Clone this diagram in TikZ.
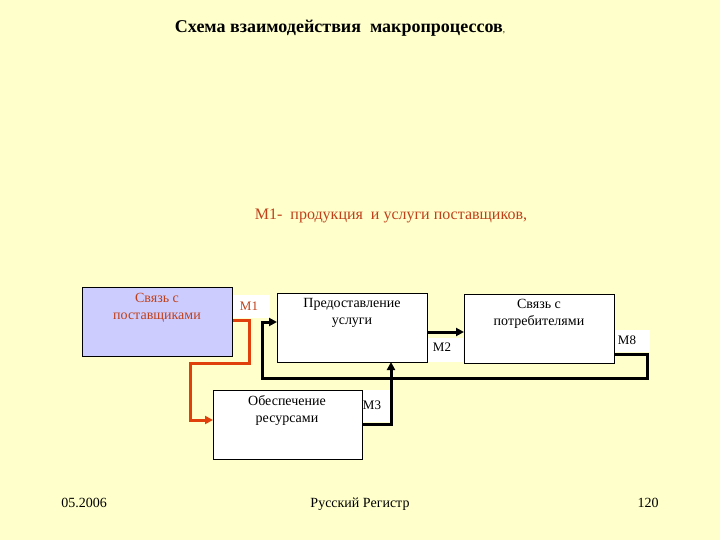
\documentclass[tikz,border=0pt]{standalone}
\usepackage{fontspec}
\setmainfont{Liberation Serif}
\usetikzlibrary{arrows.meta}

\definecolor{slidebg}{HTML}{FFFFCC}
\definecolor{brick}{HTML}{C0401A}
\definecolor{flowred}{HTML}{E0400C}
\definecolor{lavender}{HTML}{CCCCFF}

\begin{document}
\begin{tikzpicture}[x=1pt, y=-1pt,
    box/.style={draw, line width=1.2pt, fill=white, anchor=north west,
        inner sep=0pt, minimum width=150pt, minimum height=69pt},
    boxtext/.style={anchor=north, align=center, inner sep=0pt,
        font=\fontsize{14}{17}\selectfont\rmfamily},
    tag/.style={fill=white, inner sep=0pt, font=\fontsize{13}{15}\selectfont\rmfamily},
    footer/.style={font=\fontsize{14}{16}\selectfont\rmfamily},
    flow/.style={-{Triangle[length=8pt, width=8pt]}, line width=3pt},
    redflow/.style={flow, draw=flowred}
]
    \fill[slidebg] (0,0) rectangle (720,540);
    \useasboundingbox (0,0) rectangle (720,540);

    \node[font=\fontsize{18}{22}\selectfont\rmfamily\bfseries] (title) at (340,28)
        {Схема взаимодействия\ \ макропроцессов{\mdseries\small ,}};
    \node[text=brick, font=\fontsize{16}{19}\selectfont\rmfamily] (legend) at (391,216)
        {М1-\ \ продукция\ \ и услуги поставщиков,};

    % white label patches
    \fill[white] (232,295) rectangle (270,318);
    \fill[white] (427,338) rectangle (463,362);
    \fill[white] (614,330) rectangle (650,352);
    \fill[white] (362,390) rectangle (393,422);

    \node[box, fill=lavender] (suppliers) at (82,287) {};
    \node[boxtext, text=brick] at (157,293) {Связь с\\поставщиками};
    \node[box] (service) at (277,293) {};
    \node[boxtext] at (352,298) {Предоставление\\услуги};
    \node[box] (customers) at (464,294) {};
    \node[boxtext] at (539,299) {Связь с\\потребителями};
    \node[box, minimum width=149pt] (resources) at (213,390) {};
    \node[boxtext] at (287,395) {Обеспечение\\ресурсами};

    \node[tag, text=brick] (m1) at (249,306) {М1};
    \node[tag] (m2) at (442,347) {М2};
    \node[tag] (m8) at (627,340) {М8};
    \node[tag] (m3) at (372,405) {М3};

    \coordinate (loopin) at (service.west |- 0,322);
    \coordinate (m8out) at (customers.east |- 0,354);
    \coordinate (m3out) at (resources.east |- 0,424);
    \coordinate (m2out) at (service.east |- 0,332);
    \coordinate (m1out) at (suppliers.east |- 0,320);
    \coordinate (redin) at (resources.west |- 0,420);

    \draw[redflow] (m1out) -| (249,363) -| (190,420) -- (redin);
    \draw[flow] (m2out) -- (customers.west |- m2out);
    \draw[flow] (m8out) -| (647,378) -| (262,322) -- (loopin);
    \draw[flow] (m3out) -| (391,362);

    \node[footer] (date) at (84,503) {05.2006};
    \node[footer] (org) at (360,504) {Русский Регистр};
    \node[footer] (page) at (648,503) {120};
\end{tikzpicture}
\end{document}
